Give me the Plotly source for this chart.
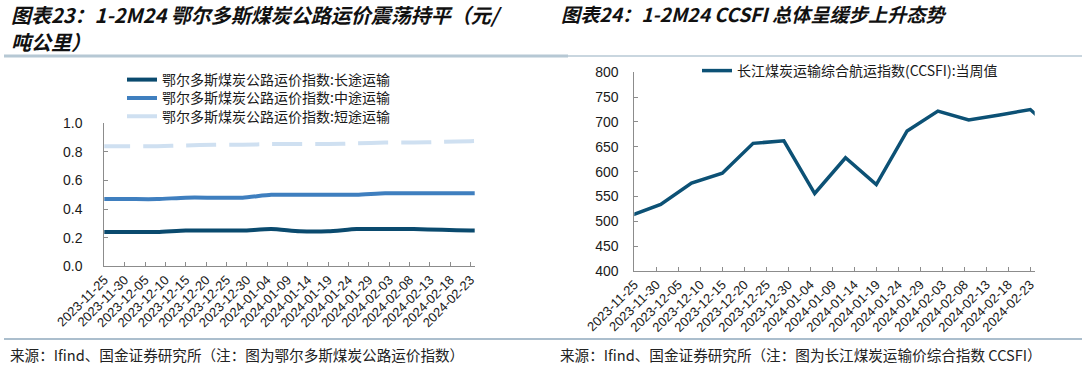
import plotly.graph_objects as go

# ---------------- data ----------------
dates = ["2023-11-24", "2023-12-01", "2023-12-08", "2023-12-15", "2023-12-22",
         "2023-12-29", "2024-01-05", "2024-01-12", "2024-01-19", "2024-01-26",
         "2024-02-02", "2024-02-09", "2024-02-16", "2024-02-23", "2024-03-01"]

long_haul = [0.24, 0.24, 0.24, 0.25, 0.25, 0.25, 0.26, 0.245, 0.245, 0.26,
             0.26, 0.26, 0.255, 0.25, 0.25]
mid_haul = [0.47, 0.47, 0.47, 0.48, 0.48, 0.48, 0.50, 0.50, 0.50, 0.50,
            0.51, 0.51, 0.51, 0.51, 0.51]
short_haul = [0.84, 0.84, 0.84, 0.845, 0.85, 0.85, 0.855, 0.855, 0.855, 0.86,
              0.865, 0.865, 0.87, 0.875, 0.88]

ccsfi = [511, 534, 577, 597, 657, 662, 556, 628, 574, 682, 722, 704, 714, 725, 670]

names_left = ["鄂尔多斯煤炭公路运价指数:长途运输",
              "鄂尔多斯煤炭公路运价指数:中途运输",
              "鄂尔多斯煤炭公路运价指数:短途运输"]
name_right = "长江煤炭运输综合航运指数(CCSFI):当周值"

title_left_1 = "图表23：1-2M24 鄂尔多斯煤炭公路运价震荡持平（元/"
title_left_2 = "吨公里）"
title_right = "图表24：1-2M24 CCSFI 总体呈缓步上升态势"
source_left = "来源：Ifind、国金证券研究所（注：图为鄂尔多斯煤炭公路运价指数）"
source_right = "来源：Ifind、国金证券研究所（注：图为长江煤炭运输价综合指数 CCSFI）"

x_range = ["2023-11-25", "2024-02-24"]
x_tick0 = "2023-11-25"

# ---------------- figure ----------------
W, H = 1085, 370
def px(x):
    return x / W
def py(y):
    return 1 - y / H

CJK = "Noto Sans CJK SC"
NUM = "Liberation Sans"

fig = go.Figure()

c_long = "#0a4a6e"
c_mid = "#3f7fbf"
c_short = "#cfe0f1"
c_ccsfi = "#0c5175"

fig.add_trace(go.Scatter(x=dates, y=long_haul, name=names_left[0], mode="lines",
                         line=dict(color=c_long, width=4, shape="spline", smoothing=0.6),
                         xaxis="x", yaxis="y", legend="legend"))
fig.add_trace(go.Scatter(x=dates, y=mid_haul, name=names_left[1], mode="lines",
                         line=dict(color=c_mid, width=4, shape="spline", smoothing=0.6),
                         xaxis="x", yaxis="y", legend="legend3"))
fig.add_trace(go.Scatter(x=dates, y=short_haul, name=names_left[2], mode="lines",
                         line=dict(color=c_short, width=4, shape="spline", smoothing=0.6,
                                   dash="30px,13px"),
                         xaxis="x", yaxis="y", legend="legend4"))
fig.add_trace(go.Scatter(x=dates, y=ccsfi, name=name_right, mode="lines",
                         line=dict(color=c_ccsfi, width=3.5),
                         xaxis="x2", yaxis="y2", legend="legend2"))

axis_color = "#8c8c8c"
xcommon = dict(type="date", range=x_range, tick0=x_tick0, dtick=5 * 86400000,
               tickformat="%Y-%m-%d", tickangle=-45, ticks="inside", ticklen=4,
               tickcolor=axis_color, showline=True, linecolor=axis_color, linewidth=1,
               showgrid=False, zeroline=False, automargin=False,
               tickfont=dict(family=NUM, size=13, color="#1a1a1a"))
ycommon = dict(ticks="inside", ticklen=4, tickcolor=axis_color, showline=True,
               linecolor=axis_color, linewidth=1, showgrid=False, zeroline=False,
               automargin=False,
               tickfont=dict(family=NUM, size=14, color="#1a1a1a"))

leg_font = dict(family=CJK, size=14, color="#1a1a1a")
def leg(x, y):
    return dict(x=px(x), y=py(y), xanchor="left", yanchor="middle",
                bgcolor="rgba(0,0,0,0)", font=leg_font)

fig.update_layout(
    width=W, height=H, margin=dict(l=0, r=0, t=0, b=0, autoexpand=False),
    paper_bgcolor="white", plot_bgcolor="white",
    xaxis=dict(domain=[px(104.3), px(474.7)], anchor="y", **xcommon),
    yaxis=dict(domain=[py(266.3), py(123.3)], anchor="x", range=[0, 1], dtick=0.2,
               tickformat=".1f", ticklabelstandoff=18, **ycommon),
    xaxis2=dict(domain=[px(634.3), px(1034.7)], anchor="y2", **xcommon),
    yaxis2=dict(domain=[py(271), py(72.3)], anchor="x2", range=[400, 800], dtick=50,
                ticklabelstandoff=12, **ycommon),
    legend=leg(122, 80),
    legend3=leg(122, 98.3),
    legend4=leg(122, 116.7),
    legend2=leg(697, 71),
    showlegend=True,
)

# titles
fig.add_annotation(text="<b><i>" + title_left_1 + "</i></b>",
                   x=px(10), y=py(14), xref="paper", yref="paper", xanchor="left", yanchor="middle",
                   align="left", showarrow=False, borderpad=0,
                   font=dict(family=CJK, size=20, color="#111111"))
fig.add_annotation(text="<b><i>" + title_left_2 + "</i></b>",
                   x=px(10), y=py(42), xref="paper", yref="paper", xanchor="left", yanchor="middle",
                   align="left", showarrow=False, borderpad=0,
                   font=dict(family=CJK, size=20, color="#111111"))
fig.add_annotation(text="<b><i>" + title_right + "</i></b>",
                   x=px(560), y=py(14), xref="paper", yref="paper", xanchor="left", yanchor="middle",
                   align="left", showarrow=False, borderpad=0,
                   font=dict(family=CJK, size=19.2, color="#111111"))

# sources
src_font = dict(family=CJK, size=14.6, color="#222222")
fig.add_annotation(text=source_left, x=px(8), y=py(354), xref="paper", yref="paper",
                   xanchor="left", yanchor="middle", showarrow=False, font=src_font)
fig.add_annotation(text=source_right, x=px(558), y=py(354), xref="paper", yref="paper",
                   xanchor="left", yanchor="middle", showarrow=False, font=src_font)

# separators
fig.add_shape(type="line", xref="paper", yref="paper", x0=px(4), x1=px(568),
              y0=py(56), y1=py(56), line=dict(color="#b6c8d4", width=3))
fig.add_shape(type="line", xref="paper", yref="paper", x0=px(568), x1=px(1082),
              y0=py(56), y1=py(56), line=dict(color="#c9d6df", width=2))
fig.add_shape(type="line", xref="paper", yref="paper", x0=px(4), x1=px(1082),
              y0=py(339), y1=py(339), line=dict(color="#8fa9bc", width=1.5))

# remove the browser's default 8px page margin so the figure fills the window
fig.write_html("out.html", config={"displayModeBar": False},
               post_script="document.body.style.margin='0px';")
